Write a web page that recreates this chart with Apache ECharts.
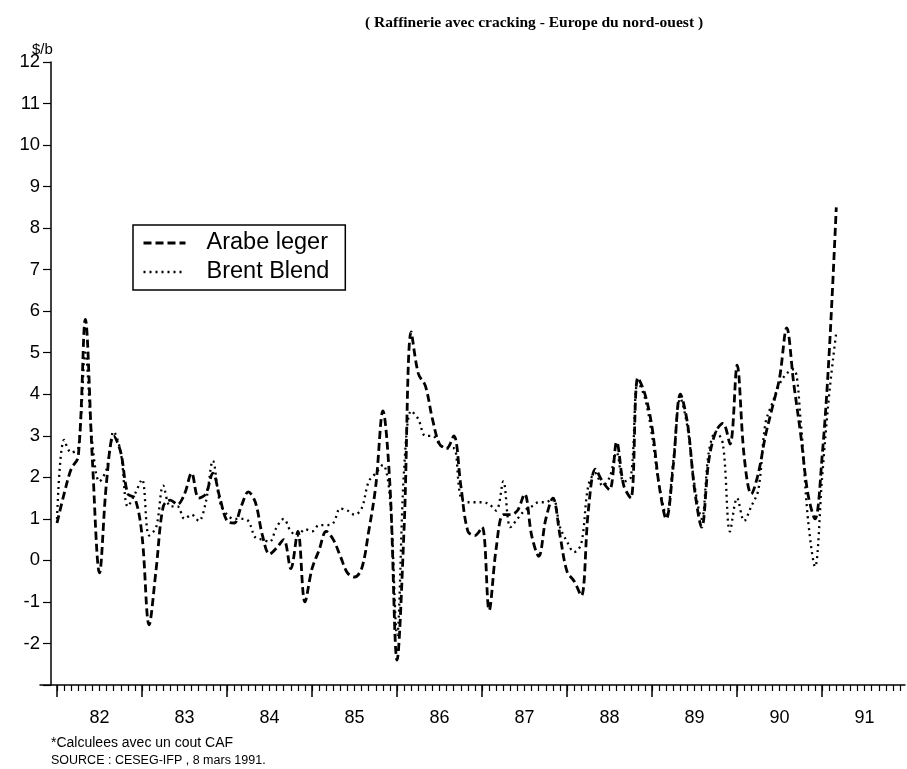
<!DOCTYPE html>
<html>
<head>
<meta charset="utf-8">
<title>Raffinerie avec cracking - Europe du nord-ouest</title>
<script src="https://cdn.jsdelivr.net/npm/echarts@6/dist/echarts.min.js"></script>
<style>
  html, body { margin: 0; padding: 0; background: #fff; }
  #main { width: 907px; height: 769px; }
</style>
</head>
<body>
<div id="main"></div>
<script>
// valeurs mensuelles en $/b, mois 0 = janvier 1982
var yearLabels = ['82', '83', '84', '85', '86', '87', '88', '89', '90', '91'];

var arabeLeger = [
  0.9, 1.6, 2.2, 2.5, 5.8, 2.4, -0.3, 1.9, 3.0, 2.6, 1.6, 1.5,     // 1982
  0.6, -1.55, -0.2, 1.3, 1.45, 1.35, 1.6, 2.1, 1.5, 1.6, 2.1, 1.5, // 1983
  0.95, 0.9, 1.3, 1.65, 1.4, 0.6, 0.15, 0.3, 0.5, -0.2, 0.7, -1.0, // 1984
  -0.2, 0.25, 0.7, 0.5, 0.1, -0.3, -0.4, -0.2, 0.7, 1.8, 3.6, 1.8, // 1985
  -2.4, 0.8, 5.5, 4.5, 4.2, 3.4, 2.8, 2.7, 3.0, 1.8, 0.7, 0.6,     // 1986
  0.8, -1.2, 0.3, 1.1, 1.1, 1.2, 1.6, 0.6, 0.1, 1.0, 1.5, 0.6,     // 1987
  -0.27, -0.5, -0.85, 1.2, 2.2, 1.9, 1.7, 2.85, 1.8, 1.5, 4.4, 4.0, // 1988
  3.2, 1.8, 1.0, 2.3, 4.0, 3.3, 1.7, 0.8, 2.4, 3.1, 3.3, 2.8,      // 1989
  4.7, 2.5, 1.6, 2.1, 3.0, 3.7, 4.4, 5.6, 4.25, 3.0, 1.6, 1.0,     // 1990
  2.5, 5.0, 8.5                                                    // 1991
];

var brentBlend = [
  1.0, 2.9, 2.6, 2.7, 5.0, 2.8, 1.9, 2.2, 3.1, 2.6, 1.3, 1.6,      // 1982
  1.95, 0.6, 0.8, 1.8, 1.3, 1.3, 1.0, 1.1, 0.95, 1.4, 2.4, 1.4,    // 1983
  1.1, 1.0, 1.0, 0.95, 0.55, 0.5, 0.45, 0.8, 1.0, 0.7, 0.6, 0.75,  // 1984
  0.7, 0.85, 0.85, 0.9, 1.25, 1.2, 1.1, 1.25, 1.9, 2.1, 2.3, 1.5,  // 1985
  -1.8, 2.2, 3.6, 3.4, 3.0, 3.0, 2.8, 2.7, 2.7, 1.5, 1.4, 1.4,     // 1986
  1.4, 1.35, 1.2, 1.9, 0.8, 1.0, 1.2, 1.3, 1.4, 1.4, 1.5, 0.8,     // 1987
  0.45, 0.2, 0.4, 1.8, 2.1, 1.8, 2.0, 2.6, 1.9, 2.0, 4.3, 3.9,     // 1988
  3.0, 1.8, 1.1, 2.4, 3.9, 3.2, 1.8, 1.0, 2.6, 3.1, 2.8, 0.7,      // 1989
  1.5, 0.95, 1.3, 1.7, 3.3, 3.8, 4.25, 4.5, 4.6, 3.3, 1.0, -0.15,  // 1990
  2.0, 4.0, 5.5                                                    // 1991
];

function toPoints(values) {
  return values.map(function (v, i) { return [i, v]; });
}

var monthTicks = [];
for (var m = 0; m <= 119; m++) monthTicks.push(m);
var yearTicks = yearLabels.map(function (y, i) { return i * 12; });
var yearCenters = yearLabels.map(function (y, i) { return i * 12 + 6; });

var dashArabe = [8, 4];
var dashBrent = [2, 4];

var chart = echarts.init(document.getElementById('main'));
var sans = 'Liberation Sans, Arial, sans-serif';

chart.setOption({
  animation: false,
  backgroundColor: '#fff',
  title: [{
    text: '( Raffinerie avec cracking - Europe du nord-ouest )',
    left: 360, top: 10,
    textStyle: { fontFamily: 'Liberation Serif, serif', fontWeight: 'bold', fontSize: 15.5, color: '#000' }
  }, {
    text: '$/b',
    left: 27, top: 37,
    textStyle: { fontFamily: sans, fontWeight: 'normal', fontSize: 15, color: '#000' }
  }, {
    text: '*Calculees avec un cout CAF',
    left: 46, top: 731,
    textStyle: { fontFamily: sans, fontWeight: 'normal', fontSize: 14, color: '#000' }
  }, {
    text: 'SOURCE : CESEG-IFP , 8 mars 1991.',
    left: 46, top: 749,
    textStyle: { fontFamily: sans, fontWeight: 'normal', fontSize: 12.5, color: '#000' }
  }],
  legend: {
    data: [
      { name: 'Arabe leger', lineStyle: { width: 3, type: dashArabe } },
      { name: 'Brent Blend', lineStyle: { width: 2.6, type: dashBrent } }
    ],
    orient: 'vertical',
    left: 133, top: 225,
    padding: [6, 16, 6, 9],
    itemGap: 5,
    itemWidth: 42,
    itemHeight: 20,
    borderColor: '#000',
    borderWidth: 1.5,
    itemStyle: { opacity: 0 },
    textStyle: { fontFamily: sans, fontSize: 23.5, color: '#000', padding: [0, 0, 0, 16] }
  },
  grid: { left: 40, right: 2, top: 62, bottom: 84 },
  xAxis: [{
    type: 'value',
    min: -2.4, max: 119.7,
    axisLine: { onZero: false, lineStyle: { color: '#000', width: 1.5 } },
    axisTick: { customValues: monthTicks, length: 6, lineStyle: { color: '#000', width: 1.2 } },
    axisLabel: {
      customValues: yearCenters,
      margin: 24,
      fontFamily: sans, fontSize: 18, color: '#000',
      formatter: function (v) { return yearLabels[Math.round((v - 6) / 12)]; }
    },
    splitLine: { show: false }
  }, {
    type: 'value',
    position: 'bottom',
    min: -2.4, max: 119.7,
    axisLine: { show: false, onZero: false },
    axisTick: { customValues: yearTicks, length: 12, lineStyle: { color: '#000', width: 1.5 } },
    axisLabel: { show: false },
    splitLine: { show: false }
  }],
  yAxis: {
    type: 'value',
    min: -3, max: 12, interval: 1,
    offset: -11,
    axisLine: { show: true, onZero: false, lineStyle: { color: '#000', width: 1.5 } },
    axisTick: { show: true, length: 8, lineStyle: { color: '#000', width: 1.2 } },
    axisLabel: {
      margin: 11,
      fontFamily: sans, fontSize: 18.5, color: '#000',
      formatter: function (v) { return v === -3 ? '' : String(v); }
    },
    splitLine: { show: false }
  },
  series: [{
    name: 'Arabe leger',
    type: 'line',
    data: toPoints(arabeLeger),
    smooth: 0.35,
    symbol: 'none',
    color: '#000',
    lineStyle: { color: '#000', width: 2.8, type: dashArabe }
  }, {
    name: 'Brent Blend',
    type: 'line',
    data: toPoints(brentBlend),
    smooth: 0.35,
    symbol: 'none',
    color: '#000',
    lineStyle: { color: '#000', width: 2.3, type: dashBrent }
  }]
});
</script>
</body>
</html>
